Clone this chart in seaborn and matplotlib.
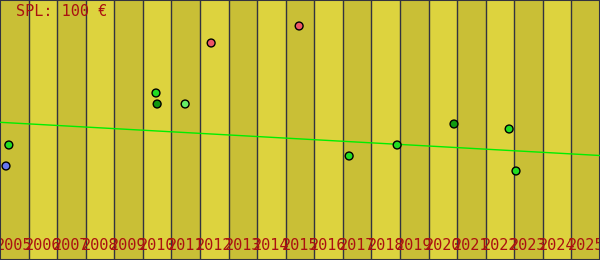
import matplotlib
matplotlib.use("Agg")
import matplotlib.pyplot as plt
import seaborn as sns
import pandas as pd

# ---- data ----
years = list(range(2005, 2026))
year_labels = [str(y) for y in years]

point_dates = [2005.31, 2005.21, 2010.46, 2010.50, 2011.48, 2012.39,
               2015.47, 2017.22, 2018.90, 2020.89, 2022.82, 2023.06]
point_values = [115, 94, 167, 156, 156, 217, 234, 104, 115, 136, 131, 89]
point_groups = ["green", "blue", "green", "dark", "light", "red",
                "red", "green", "green", "dark", "green", "green"]

trend_dates = [2005, 2026]
trend_values = [137.7, 104.5]

title_text = "SPL: 100 €"

# ---- styling ----
sns.set_style("white")
plt.rcParams["font.family"] = ["DejaVu Sans Mono", "DejaVu Sans"]

palette = {"green": "#22dd22", "blue": "#6677ee", "dark": "#119911",
           "light": "#66ee66", "red": "#ee5566"}
stripe_dark = "#c9bf36"
stripe_light = "#ddd33e"
grid_color = "#333340"
text_color = "#aa1111"

fig = plt.figure(figsize=(6, 2.6), dpi=100)
ax = fig.add_axes([0, 0, 1, 1])
ax.set_xlim(2005, 2026)
ax.set_ylim(0, 260)

for i, y in enumerate(years):
    ax.axvspan(y, y + 1, color=stripe_dark if i % 2 == 0 else stripe_light,
               lw=0, zorder=0)
    if i > 0:
        ax.axvline(y, color=grid_color, lw=1, zorder=1)
    ax.text(y + 0.5, 15, year_labels[i], ha="center", va="center",
            fontsize=11, color=text_color, zorder=2)

trend = pd.DataFrame({"date": trend_dates, "value": trend_values})
sns.lineplot(data=trend, x="date", y="value", ax=ax, color="#00ee00",
             lw=1, zorder=3)

pts = pd.DataFrame({"date": point_dates, "value": point_values,
                    "group": point_groups})
sns.scatterplot(data=pts, x="date", y="value", hue="group", palette=palette,
                s=32, edgecolor="black", linewidth=1, legend=False, ax=ax,
                zorder=4)

ax.text(2005 + 16 / 28.571, 248.5, title_text, ha="left", va="center",
        fontsize=11, color=text_color, zorder=5)

ax.set_xticks([])
ax.set_yticks([])
ax.set_xlabel("")
ax.set_ylabel("")
for s in ax.spines.values():
    s.set_visible(True)
    s.set_color(grid_color)
    s.set_linewidth(1.5)

fig.savefig("out.png", dpi=100)
